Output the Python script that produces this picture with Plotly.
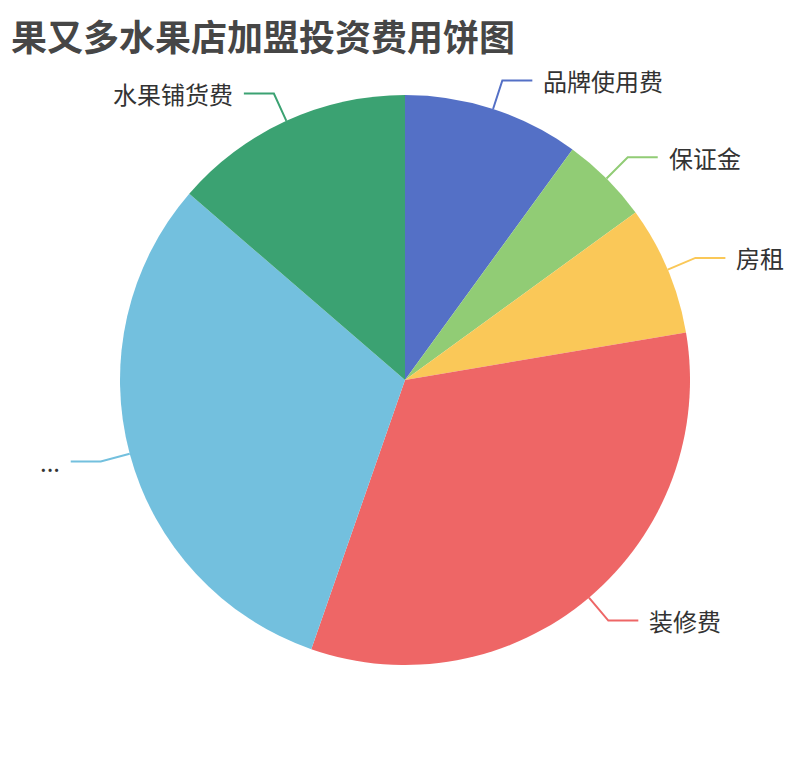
import math
import plotly.graph_objects as go

# 投资费用（万元）
categories = ["品牌使用费", "保证金", "房租", "装修费", "...", "水果铺货费"]
values = [3.0, 1.5, 2.2, 9.9, 9.3, 4.1]
colors = ["#5470c6", "#91cc75", "#fac858", "#ee6666", "#73c0de", "#3ba272"]

W, H = 810, 760
OFF = 8                      # 页面 body 的默认边距
cx, cy, R = 405 - OFF, 380 - OFF, 285   # 饼图中心和半径（像素）

fig = go.Figure(go.Pie(
    labels=categories,
    values=values,
    sort=False,
    direction="clockwise",
    rotation=0,
    marker=dict(colors=colors, line=dict(width=0)),
    textinfo="none",
    hoverinfo="label+value+percent",
    showlegend=False,
    domain=dict(x=[(cx - R) / W, (cx + R) / W], y=[1 - (cy + R) / H, 1 - (cy - R) / H]),
))

# 标签和引导线，按扇区中间角度计算
def px(x, y):
    return x / W, 1 - y / H

shapes, annotations = [], []
total = sum(values)
acc = 0
for name, v, c in zip(categories, values, colors):
    mid = (acc + v / 2) / total * 2 * math.pi
    acc += v
    s, co = math.sin(mid), math.cos(mid)
    x0, y0 = cx + R * s, cy - R * co
    x1, y1 = cx + (R + 30) * s, cy - (R + 30) * co
    side = 1 if s >= 0 else -1
    x2 = x1 + 30 * side
    path = "M {} {} L {} {} L {} {}".format(*px(x0, y0), *px(x1, y1), *px(x2, y1))
    shapes.append(dict(type="path", xref="paper", yref="paper", path=path,
                       line=dict(color=c, width=2)))
    tx, ty = px(x2 + 9 * side, y1)
    annotations.append(dict(x=tx, y=ty, xref="paper", yref="paper", text=name,
                            showarrow=False, xanchor="left" if side > 0 else "right",
                            yanchor="middle", font=dict(size=24, color="#333333")))

annotations.append(dict(x=(10 - OFF) / W, y=1, xref="paper", yref="paper",
                        text="<b>果又多水果店加盟投资费用饼图</b>", showarrow=False,
                        xanchor="left", yanchor="top", borderpad=0,
                        font=dict(size=36, color="#464646")))

fig.update_layout(
    width=W, height=H,
    margin=dict(l=0, r=0, t=0, b=0),
    paper_bgcolor="white",
    font=dict(family="Noto Sans CJK SC, Noto Sans, sans-serif"),
    shapes=shapes,
    annotations=annotations,
)

fig.write_html("out.html")
